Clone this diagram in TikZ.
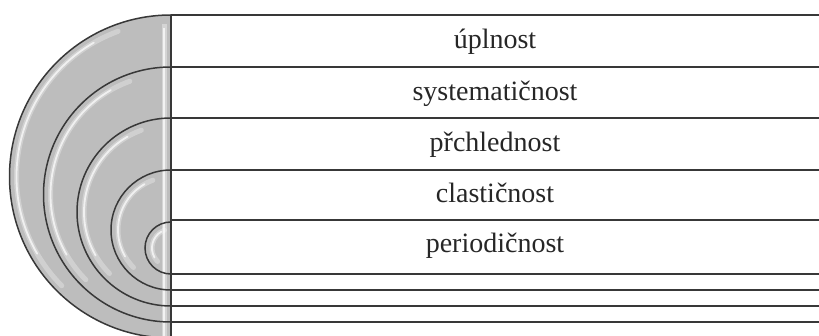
\documentclass[tikz,border=0pt]{standalone}
\usepackage{fontspec}
\setmainfont{Liberation Serif}
\begin{document}
\begin{tikzpicture}[x=1pt,y=-1pt,
  rule/.style={draw=black!78,line width=1.5pt},
  glowwide/.style={draw=white,line width=5pt,opacity=0.3,line cap=round},
  glownarrow/.style={draw=white,line width=1.8pt,opacity=0.7,line cap=round},
  lbl/.style={anchor=base,font=\fontsize{28}{30}\selectfont,text=black!85,inner sep=0pt}]
\useasboundingbox (0,0) rectangle (819,336);
\begin{scope}
\clip (0,0) rectangle (819,336);
\fill[black!26] (171,15) arc[start angle=270,end angle=90,radius=161.5] -- cycle;
\foreach \cy/\r in {176.5/161.5,194.5/127.5,212/94,230/60,248/26}{
  \draw[glowwide] (171,\cy) ++(250:{\r-7}) arc[start angle=250,end angle=135,radius={\r-7}];
  \draw[glownarrow] (171,\cy) ++(240:{\r-7}) arc[start angle=240,end angle=150,radius={\r-7}];
}
\draw[draw=white,line width=5pt,opacity=0.35] (164,24) -- (164,336);
\draw[draw=white,line width=1.8pt,opacity=0.7] (164,28) -- (164,336);
\foreach \cy/\r in {176.5/161.5,194.5/127.5,212/94,230/60,248/26}{
  \draw[rule] (171,\cy-\r) arc[start angle=270,end angle=90,radius=\r];
}
\end{scope}
\coordinate (vt) at (171,15);
\coordinate (vb) at (171,336);
\draw[rule] (vt) -- (vb);
\foreach \y in {15,67,118,170,220,274,290,306,322}{
  \draw[rule] (171,\y) -- (819,\y);
}
\node[lbl] (t1) at (495,49) {úplnost};
\node[lbl] (t2) at (495,101) {systematičnost};
\node[lbl] (t3) at (495,152) {přchlednost};
\node[lbl] (t4) at (495,203) {clastičnost};
\node[lbl] (t5) at (495,253) {periodičnost};
\end{tikzpicture}
\end{document}
